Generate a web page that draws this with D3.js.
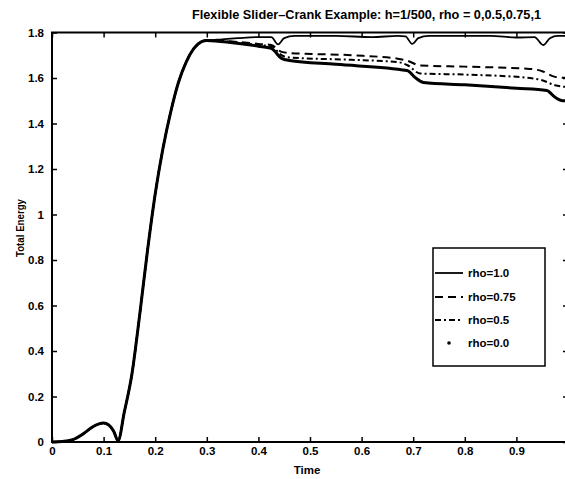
<!DOCTYPE html>
<html><head><meta charset="utf-8">
<script src="https://cdn.jsdelivr.net/npm/d3@7"></script>
<style>body{margin:0;background:#fff}svg{display:block}text{font-family:"Liberation Sans",Arial,sans-serif;font-weight:bold;fill:#000}</style>
</head><body>
<script>
// ---- data ----
const riseT = [0,0.02,0.04,0.06,0.08,0.10,0.11,0.12,0.128,0.14,0.155,0.17,0.185,0.20,0.215,0.23,0.245,0.26,0.275,0.29,0.30];
const riseE = [0,0.002,0.01,0.035,0.068,0.083,0.075,0.045,0.005,0.13,0.30,0.56,0.84,1.09,1.29,1.45,1.58,1.67,1.73,1.76,1.765];

const rho10T = [0.33,0.36,0.40,0.425,0.438,0.45,0.47,0.55,0.62,0.67,0.685,0.698,0.71,0.73,0.85,0.90,0.935,0.952,0.965,0.98,1.0];
const rho10E = [1.77,1.775,1.78,1.78,1.748,1.775,1.785,1.785,1.78,1.785,1.783,1.75,1.775,1.785,1.785,1.778,1.78,1.745,1.775,1.785,1.785];

const rho075T = [0.35,0.40,0.425,0.445,0.46,0.58,0.67,0.69,0.713,0.80,0.926,0.95,0.975,1.0];
const rho075E = [1.76,1.75,1.745,1.715,1.71,1.70,1.685,1.675,1.655,1.65,1.64,1.63,1.605,1.60];

const rho05T = [0.35,0.40,0.425,0.445,0.46,0.58,0.67,0.69,0.713,0.80,0.926,0.95,0.975,1.0];
const rho05E = [1.758,1.745,1.74,1.70,1.69,1.68,1.67,1.655,1.62,1.615,1.60,1.59,1.568,1.56];

const rho00T = [0.35,0.40,0.425,0.445,0.46,0.55,0.688,0.705,0.72,0.80,0.90,0.959,0.975,0.99,1.0];
const rho00E = [1.755,1.74,1.73,1.686,1.677,1.66,1.633,1.60,1.58,1.57,1.555,1.545,1.515,1.50,1.50];

const xTicks = [0,0.1,0.2,0.3,0.4,0.5,0.6,0.7,0.8,0.9];
const xTickLabels = ["0","0.1","0.2","0.3","0.4","0.5","0.6","0.7","0.8","0.9"];
const yTicks = [0,0.2,0.4,0.6,0.8,1,1.2,1.4,1.6,1.8];
const yTickLabels = ["0","0.2","0.4","0.6","0.8","1","1.2","1.4","1.6","1.8"];
const legendLabels = ["rho=1.0","rho=0.75","rho=0.5","rho=0.0"];
const titleText = "Flexible Slider\u2013Crank Example: h=1/500, rho = 0,0.5,0.75,1";

// ---- layout ----
const W = 565, H = 479;
const L = 52, R = 568, T = 32.5, B = 442;
const svg = d3.select("body").append("svg").attr("width", W).attr("height", H);
const x = d3.scaleLinear().domain([0,1]).range([L,R]);
const y = d3.scaleLinear().domain([0,1.8]).range([B,T]);

function series(tt, ee){
  const pts = riseT.map((t,i)=>[t,riseE[i]]);
  tt.forEach((t,i)=>pts.push([t,ee[i]]));
  return pts;
}
const line = d3.line().x(d=>x(d[0])).y(d=>y(d[1])).curve(d3.curveMonotoneX);

const styles = [
  {pts: series(rho00T, rho00E), w: 3, dash: null},
  {pts: series(rho05T, rho05E), w: 2, dash: "6,3,2,3"},
  {pts: series(rho075T, rho075E), w: 2, dash: "8,5"},
  {pts: series(rho10T, rho10E), w: 1.8, dash: null}
];
styles.forEach(s=>{
  svg.append("path").attr("d", line(s.pts)).attr("fill","none")
    .attr("stroke","#000").attr("stroke-width", s.w)
    .attr("stroke-dasharray", s.dash).attr("stroke-linejoin","round");
});

// axes
const fmtX = d=>xTickLabels[xTicks.indexOf(d)];
const fmtY = d=>yTickLabels[yTicks.indexOf(d)];
const xb = svg.append("g").attr("transform",`translate(0,${B})`)
  .call(d3.axisBottom(x).tickValues(xTicks).tickFormat(fmtX).tickSizeInner(-5).tickSizeOuter(0).tickPadding(5));
const xt = svg.append("g").attr("transform",`translate(0,${T})`)
  .call(d3.axisTop(x).tickValues(xTicks).tickFormat("").tickSizeInner(-5).tickSizeOuter(0));
const yl = svg.append("g").attr("transform",`translate(${L},0)`)
  .call(d3.axisLeft(y).tickValues(yTicks).tickFormat(fmtY).tickSizeInner(-5).tickSizeOuter(0).tickPadding(8));
const yr = svg.append("g").attr("transform",`translate(${R},0)`)
  .call(d3.axisRight(y).tickValues(yTicks).tickFormat("").tickSizeInner(-5).tickSizeOuter(0));
[xb,xt,yl,yr].forEach(g=>{
  g.select(".domain").remove();
  g.selectAll(".tick line").attr("stroke","#000").attr("stroke-width",1.5);
  g.selectAll("text").style("font-size","11.5px").style("font-family","'Liberation Sans',Arial,sans-serif").style("font-weight","bold").attr("fill","#000");
});
svg.append("rect").attr("x",L).attr("y",T).attr("width",R-L).attr("height",B-T)
  .attr("fill","none").attr("stroke","#000").attr("stroke-width",2);

// labels
svg.append("text").attr("x",192).attr("y",19).style("font-size","12px")
  .attr("textLength",349).attr("lengthAdjust","spacingAndGlyphs").text(titleText);
svg.append("text").attr("x",307).attr("y",474).attr("text-anchor","middle").style("font-size","11.5px").text("Time");
svg.append("text").attr("transform","translate(24,228) rotate(-90)").attr("text-anchor","middle").style("font-size","11.5px")
  .attr("textLength",58).attr("lengthAdjust","spacingAndGlyphs").text("Total Energy");

// legend
const lg = svg.append("g");
lg.append("rect").attr("x",433).attr("y",248).attr("width",112).attr("height",118)
  .attr("fill","#fff").attr("stroke","#000").attr("stroke-width",1.5);
const legY = [273,297,320,343];
const legStyle = [{w:1.8,dash:null},{w:2,dash:"8,5"},{w:2,dash:"6,3,2,3"}];
legendLabels.forEach((lab,i)=>{
  if(i<3){
    lg.append("line").attr("x1",435).attr("x2",463).attr("y1",legY[i]).attr("y2",legY[i])
      .attr("stroke","#000").attr("stroke-width",legStyle[i].w).attr("stroke-dasharray",legStyle[i].dash);
  } else {
    lg.append("circle").attr("cx",449).attr("cy",legY[i]).attr("r",1.8).attr("fill","#000");
  }
  lg.append("text").attr("x",468).attr("y",legY[i]+4).style("font-size","11.5px").text(lab);
});
</script>
</body></html>
